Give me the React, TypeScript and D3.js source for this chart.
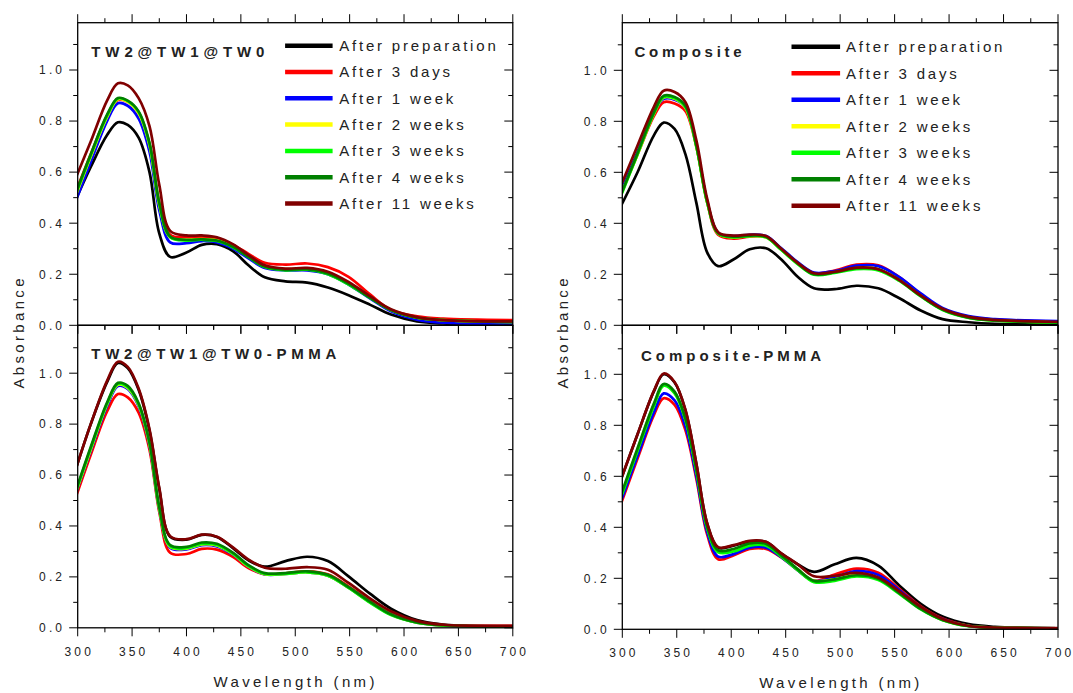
import React from "react";
import * as d3 from "d3";

// ---------- data ----------
// sample wavelengths (nm) read off each column of panels
const twWavelengths = [298, 312, 327, 337, 346, 356, 366, 375, 385, 400, 414, 428, 443, 457, 472, 491, 511, 530, 549, 569, 588, 612, 636, 700];
const compWavelengths = [299, 314, 329, 338, 348, 358, 368, 378, 388, 402, 417, 432, 446, 461, 476, 495, 515, 535, 554, 574, 594, 618, 642, 700];
const seriesNames = ["After preparation", "After 3 days", "After 1 week", "After 2 weeks", "After 3 weeks", "After 4 weeks", "After 11 weeks"];
const seriesColors = ["#000000", "#ff0000", "#0000ff", "#ffff00", "#00ff00", "#008000", "#800000"];
const xTicks = [300, 350, 400, 450, 500, 550, 600, 650, 700];
const xMinorTicks = [325, 375, 425, 475, 525, 575, 625, 675];
const yTicks = [0, 0.2, 0.4, 0.6, 0.8, 1.0];
const yMinorTicks = [0.1, 0.3, 0.5, 0.7, 0.9, 1.1];
const panelTitles = ["TW2@TW1@TW0", "Composite", "TW2@TW1@TW0-PMMA", "Composite-PMMA"];
const xTitle = "Wavelength (nm)";
const yTitle = "Absorbance";

// TW2@TW1@TW0
const twPrep = [0.49, 0.62, 0.745, 0.795, 0.785, 0.735, 0.60, 0.36, 0.268, 0.285, 0.315, 0.318, 0.29, 0.235, 0.188, 0.172, 0.167, 0.148, 0.118, 0.08, 0.042, 0.015, 0.007, 0.005];
const tw3Days = [0.52, 0.67, 0.82, 0.882, 0.875, 0.83, 0.71, 0.48, 0.355, 0.345, 0.345, 0.34, 0.315, 0.28, 0.245, 0.238, 0.242, 0.228, 0.19, 0.12, 0.06, 0.035, 0.026, 0.02];
const tw1Week = [0.485, 0.64, 0.80, 0.87, 0.86, 0.81, 0.68, 0.45, 0.325, 0.322, 0.33, 0.325, 0.30, 0.262, 0.225, 0.215, 0.215, 0.2, 0.16, 0.105, 0.055, 0.022, 0.01, 0.005];
const tw2Weeks = [0.505, 0.66, 0.815, 0.885, 0.875, 0.83, 0.705, 0.47, 0.345, 0.335, 0.338, 0.333, 0.308, 0.27, 0.232, 0.22, 0.222, 0.205, 0.165, 0.11, 0.06, 0.03, 0.02, 0.013];
const tw3Weeks = [0.51, 0.665, 0.82, 0.888, 0.878, 0.835, 0.71, 0.475, 0.345, 0.332, 0.335, 0.33, 0.305, 0.267, 0.228, 0.215, 0.218, 0.2, 0.16, 0.107, 0.06, 0.03, 0.02, 0.013];
const tw4Weeks = [0.515, 0.67, 0.825, 0.89, 0.88, 0.838, 0.715, 0.48, 0.348, 0.335, 0.337, 0.332, 0.307, 0.268, 0.23, 0.217, 0.22, 0.203, 0.163, 0.108, 0.06, 0.03, 0.02, 0.013];
const tw11Weeks = [0.575, 0.72, 0.88, 0.948, 0.94, 0.89, 0.78, 0.55, 0.37, 0.352, 0.352, 0.345, 0.317, 0.275, 0.235, 0.222, 0.225, 0.21, 0.17, 0.113, 0.063, 0.032, 0.02, 0.015];

// Composite
const compPrep = [0.47, 0.60, 0.745, 0.795, 0.77, 0.67, 0.48, 0.285, 0.232, 0.258, 0.298, 0.302, 0.258, 0.19, 0.145, 0.142, 0.155, 0.145, 0.107, 0.058, 0.024, 0.012, 0.006, 0.004];
const comp3Days = [0.52, 0.67, 0.82, 0.875, 0.87, 0.84, 0.70, 0.48, 0.355, 0.34, 0.348, 0.345, 0.297, 0.245, 0.205, 0.215, 0.238, 0.235, 0.19, 0.122, 0.065, 0.033, 0.022, 0.014];
const comp1Week = [0.53, 0.68, 0.835, 0.888, 0.885, 0.855, 0.705, 0.485, 0.362, 0.35, 0.355, 0.35, 0.302, 0.248, 0.207, 0.213, 0.234, 0.232, 0.19, 0.125, 0.068, 0.036, 0.024, 0.016];
const comp2Weeks = [0.515, 0.67, 0.83, 0.893, 0.888, 0.853, 0.70, 0.48, 0.36, 0.345, 0.35, 0.345, 0.296, 0.242, 0.2, 0.207, 0.224, 0.22, 0.177, 0.115, 0.062, 0.03, 0.019, 0.011];
const comp3Weeks = [0.51, 0.67, 0.83, 0.895, 0.89, 0.855, 0.70, 0.48, 0.36, 0.345, 0.35, 0.345, 0.295, 0.24, 0.198, 0.205, 0.22, 0.215, 0.175, 0.113, 0.06, 0.029, 0.018, 0.01];
const comp4Weeks = [0.515, 0.675, 0.835, 0.9, 0.895, 0.86, 0.705, 0.485, 0.362, 0.348, 0.352, 0.347, 0.298, 0.243, 0.2, 0.208, 0.224, 0.22, 0.178, 0.115, 0.062, 0.03, 0.019, 0.011];
const comp11Weeks = [0.55, 0.705, 0.857, 0.92, 0.915, 0.875, 0.725, 0.495, 0.365, 0.352, 0.356, 0.35, 0.30, 0.245, 0.204, 0.21, 0.226, 0.22, 0.178, 0.117, 0.065, 0.033, 0.021, 0.014];

// TW2@TW1@TW0-PMMA
const twPmmaPrep = [0.62, 0.80, 0.965, 1.04, 1.02, 0.935, 0.775, 0.545, 0.358, 0.346, 0.365, 0.357, 0.312, 0.265, 0.24, 0.262, 0.279, 0.262, 0.202, 0.133, 0.075, 0.03, 0.013, 0.006];
const twPmma3Days = [0.51, 0.68, 0.85, 0.918, 0.905, 0.845, 0.70, 0.455, 0.295, 0.29, 0.31, 0.307, 0.278, 0.235, 0.21, 0.214, 0.222, 0.21, 0.163, 0.104, 0.055, 0.022, 0.011, 0.008];
const twPmma1Week = [0.525, 0.695, 0.87, 0.95, 0.938, 0.87, 0.715, 0.465, 0.315, 0.308, 0.325, 0.32, 0.287, 0.24, 0.21, 0.212, 0.218, 0.205, 0.158, 0.1, 0.052, 0.02, 0.009, 0.005];
const twPmma2Weeks = [0.528, 0.7, 0.877, 0.955, 0.942, 0.875, 0.72, 0.468, 0.318, 0.311, 0.328, 0.323, 0.289, 0.241, 0.211, 0.212, 0.218, 0.205, 0.158, 0.1, 0.052, 0.02, 0.009, 0.005];
const twPmma3Weeks = [0.53, 0.705, 0.88, 0.958, 0.945, 0.878, 0.725, 0.47, 0.32, 0.313, 0.33, 0.325, 0.29, 0.242, 0.212, 0.212, 0.218, 0.205, 0.157, 0.098, 0.05, 0.02, 0.009, 0.005];
const twPmma4Weeks = [0.535, 0.71, 0.885, 0.962, 0.95, 0.882, 0.728, 0.475, 0.325, 0.318, 0.335, 0.33, 0.294, 0.246, 0.215, 0.215, 0.222, 0.208, 0.16, 0.102, 0.053, 0.021, 0.01, 0.006];
const twPmma11Weeks = [0.62, 0.80, 0.97, 1.045, 1.025, 0.94, 0.78, 0.55, 0.36, 0.348, 0.366, 0.358, 0.315, 0.268, 0.236, 0.232, 0.238, 0.228, 0.176, 0.115, 0.065, 0.027, 0.012, 0.008];

// Composite-PMMA
const compPmmaPrep = [0.59, 0.765, 0.933, 1.0, 0.968, 0.858, 0.648, 0.413, 0.32, 0.328, 0.345, 0.342, 0.297, 0.255, 0.225, 0.255, 0.28, 0.25, 0.173, 0.1, 0.05, 0.02, 0.01, 0.004];
const compPmma3Days = [0.495, 0.67, 0.84, 0.906, 0.88, 0.78, 0.59, 0.37, 0.275, 0.29, 0.315, 0.315, 0.282, 0.232, 0.19, 0.215, 0.238, 0.222, 0.16, 0.09, 0.042, 0.014, 0.007, 0.004];
const compPmma1Week = [0.505, 0.68, 0.85, 0.925, 0.898, 0.795, 0.6, 0.38, 0.285, 0.295, 0.32, 0.32, 0.283, 0.232, 0.19, 0.205, 0.228, 0.213, 0.155, 0.087, 0.04, 0.013, 0.007, 0.004];
const compPmma2Weeks = [0.525, 0.705, 0.88, 0.957, 0.928, 0.823, 0.625, 0.4, 0.305, 0.31, 0.333, 0.332, 0.288, 0.235, 0.19, 0.196, 0.213, 0.198, 0.143, 0.08, 0.037, 0.013, 0.007, 0.004];
const compPmma3Weeks = [0.52, 0.70, 0.875, 0.955, 0.925, 0.82, 0.62, 0.395, 0.302, 0.305, 0.328, 0.328, 0.285, 0.232, 0.185, 0.19, 0.207, 0.193, 0.14, 0.078, 0.036, 0.012, 0.006, 0.004];
const compPmma4Weeks = [0.53, 0.71, 0.885, 0.962, 0.932, 0.826, 0.628, 0.402, 0.31, 0.315, 0.337, 0.335, 0.29, 0.236, 0.19, 0.196, 0.212, 0.198, 0.143, 0.08, 0.037, 0.013, 0.007, 0.004];
const compPmma11Weeks = [0.59, 0.765, 0.935, 1.003, 0.97, 0.86, 0.65, 0.415, 0.322, 0.33, 0.347, 0.343, 0.298, 0.255, 0.208, 0.21, 0.221, 0.203, 0.15, 0.088, 0.04, 0.013, 0.007, 0.005];

const panelSeries = [
  [twPrep, tw3Days, tw1Week, tw2Weeks, tw3Weeks, tw4Weeks, tw11Weeks],
  [compPrep, comp3Days, comp1Week, comp2Weeks, comp3Weeks, comp4Weeks, comp11Weeks],
  [twPmmaPrep, twPmma3Days, twPmma1Week, twPmma2Weeks, twPmma3Weeks, twPmma4Weeks, twPmma11Weeks],
  [compPmmaPrep, compPmma3Days, compPmma1Week, compPmma2Weeks, compPmma3Weeks, compPmma4Weeks, compPmma11Weeks],
];
const panelWavelengths = [twWavelengths, compWavelengths, twWavelengths, compWavelengths];

// ---------- layout ----------
const W = 1073;
const H = 693;
const FONT = "'Liberation Sans', Arial, Helvetica, sans-serif";
const TEXT = "#222";

type Legend = { x: number; y: number; len: number; gap: number; step: number };
const layouts: {
  x0: number; x1: number; top: number; bottom: number; zeroY: number; oneY: number; isTop: boolean;
  title: { x: number; y: number; w: number }; legend?: Legend;
}[] = [
  { x0: 77.7, x1: 512.8, top: 22.7, bottom: 325.3, zeroY: 325.3, oneY: 70, isTop: true, title: { x: 91.3, y: 57, w: 173 }, legend: { x: 285.1, y: 45.7, len: 47.5, gap: 6.6, step: 26.3 } },
  { x0: 622.3, x1: 1058, top: 22.7, bottom: 325.3, zeroY: 325.3, oneY: 70.3, isTop: true, title: { x: 634.5, y: 57, w: 107 }, legend: { x: 791.5, y: 46.7, len: 48.6, gap: 5.8, step: 26.5 } },
  { x0: 77.7, x1: 512.8, top: 325.3, bottom: 627.8, zeroY: 627.8, oneY: 373.2, isTop: false, title: { x: 91.3, y: 359, w: 245 } },
  { x0: 622.3, x1: 1058, top: 325.3, bottom: 629.3, zeroY: 629.3, oneY: 374.3, isTop: false, title: { x: 641, y: 361, w: 180 } },
];

const MAJ = 8.5;
const MIN = 4.5;

function Panel({ idx }: { idx: number }) {
  const L = layouts[idx];
  const wl = panelWavelengths[idx];
  const x = d3.scaleLinear().domain([300, 700]).range([L.x0, L.x1]);
  const y = d3.scaleLinear().domain([0, 1]).range([L.zeroY, L.oneY]);
  const line = d3
    .line<number>()
    .x((_, i) => x(wl[i]))
    .y((d) => y(d))
    .curve(d3.curveCatmullRom.alpha(0.5));
  const series = panelSeries[idx];
  const tickLs = 3.1;
  const els: any[] = [];

  yTicks.forEach((t, i) => {
    const yy = y(t);
    els.push(<line key={"yl" + i} x1={L.x0 - MAJ} x2={L.x0} y1={yy} y2={yy} stroke="#000" strokeWidth={1} />);
    els.push(<line key={"yr" + i} x1={L.x1 - MAJ} x2={L.x1} y1={yy} y2={yy} stroke="#000" strokeWidth={1} />);
    els.push(
      <text key={"yt" + i} x={L.x0 - 15.7 + tickLs} y={yy} dy="0.36em" textAnchor="end" fontSize={12} letterSpacing={tickLs} fill={TEXT} fontFamily={FONT}>
        {d3.format(".1f")(t)}
      </text>
    );
  });
  yMinorTicks.forEach((t, i) => {
    const yy = y(t);
    if (yy < L.top - 0.5) return;
    els.push(<line key={"yml" + i} x1={L.x0 - MIN} x2={L.x0} y1={yy} y2={yy} stroke="#000" strokeWidth={1} />);
    els.push(<line key={"ymr" + i} x1={L.x1 - MIN} x2={L.x1} y1={yy} y2={yy} stroke="#000" strokeWidth={1} />);
  });

  xTicks.forEach((t, i) => {
    const xx = x(t);
    if (L.isTop) {
      els.push(<line key={"xt" + i} x1={xx} x2={xx} y1={L.top - MAJ} y2={L.top} stroke="#000" strokeWidth={1} />);
      els.push(<line key={"xb" + i} x1={xx} x2={xx} y1={L.bottom} y2={L.bottom + MAJ} stroke="#000" strokeWidth={1} />);
    } else {
      els.push(<line key={"xt" + i} x1={xx} x2={xx} y1={L.top} y2={L.top + MAJ} stroke="#000" strokeWidth={1} />);
      els.push(<line key={"xb" + i} x1={xx} x2={xx} y1={L.bottom} y2={L.bottom + MAJ} stroke="#000" strokeWidth={1} />);
      els.push(
        <text key={"xl" + i} x={xx + tickLs / 2} y={L.bottom + 28} textAnchor="middle" fontSize={12} letterSpacing={tickLs} fill={TEXT} fontFamily={FONT}>
          {t}
        </text>
      );
    }
  });
  xMinorTicks.forEach((t, i) => {
    const xx = x(t);
    if (L.isTop) {
      els.push(<line key={"xmt" + i} x1={xx} x2={xx} y1={L.top - MIN} y2={L.top} stroke="#000" strokeWidth={1} />);
      els.push(<line key={"xmb" + i} x1={xx} x2={xx} y1={L.bottom} y2={L.bottom + MIN} stroke="#000" strokeWidth={1} />);
    } else {
      els.push(<line key={"xmt" + i} x1={xx} x2={xx} y1={L.top} y2={L.top + MIN} stroke="#000" strokeWidth={1} />);
      els.push(<line key={"xmb" + i} x1={xx} x2={xx} y1={L.bottom} y2={L.bottom + MIN} stroke="#000" strokeWidth={1} />);
    }
  });

  return (
    <g>
      <defs>
        <clipPath id={"clip" + idx}>
          <rect x={L.x0} y={L.top} width={L.x1 - L.x0} height={L.bottom - L.top} />
        </clipPath>
      </defs>
      <g clipPath={`url(#clip${idx})`}>
        {series.map((s, i) => (
          <path key={"s" + i} d={line(s) || ""} fill="none" stroke={seriesColors[i]} strokeWidth={2.7} strokeLinejoin="round" />
        ))}
      </g>
      {els}
      <rect x={L.x0} y={L.top} width={L.x1 - L.x0} height={L.bottom - L.top} fill="none" stroke="#000" strokeWidth={1.3} />
      <text x={L.title.x} y={L.title.y} fontSize={15} fontWeight="bold" textLength={L.title.w} lengthAdjust="spacing" fill={TEXT} fontFamily={FONT}>
        {panelTitles[idx]}
      </text>
      {L.legend &&
        seriesNames.map((n, i) => {
          const lg = L.legend!;
          const ly = lg.y + i * lg.step;
          return (
            <g key={"lg" + i}>
              <line x1={lg.x} x2={lg.x + lg.len} y1={ly} y2={ly} stroke={seriesColors[i]} strokeWidth={4.5} />
              <text x={lg.x + lg.len + lg.gap} y={ly} dy="0.36em" fontSize={15} letterSpacing={2.8} fill={TEXT} fontFamily={FONT}>
                {n}
              </text>
            </g>
          );
        })}
    </g>
  );
}

export default function App() {
  return (
    <svg width={W} height={H} style={{ position: "absolute", left: 0, top: 0, background: "#fff" }}>
      <rect x={0} y={0} width={W} height={H} fill="#fff" />
      {[0, 1, 2, 3].map((i) => (
        <Panel key={i} idx={i} />
      ))}
      <text x={213.5} y={686.5} fontSize={15} textLength={161} lengthAdjust="spacing" fill={TEXT} fontFamily={FONT}>
        {xTitle}
      </text>
      <text x={759.2} y={688} fontSize={15} textLength={160} lengthAdjust="spacing" fill={TEXT} fontFamily={FONT}>
        {xTitle}
      </text>
      <text transform="translate(19,388.5) rotate(-90)" dy="0.36em" fontSize={15} textLength={110} lengthAdjust="spacing" fill={TEXT} fontFamily={FONT}>
        {yTitle}
      </text>
      <text transform="translate(563,388.5) rotate(-90)" dy="0.36em" fontSize={15} textLength={110} lengthAdjust="spacing" fill={TEXT} fontFamily={FONT}>
        {yTitle}
      </text>
    </svg>
  );
}
